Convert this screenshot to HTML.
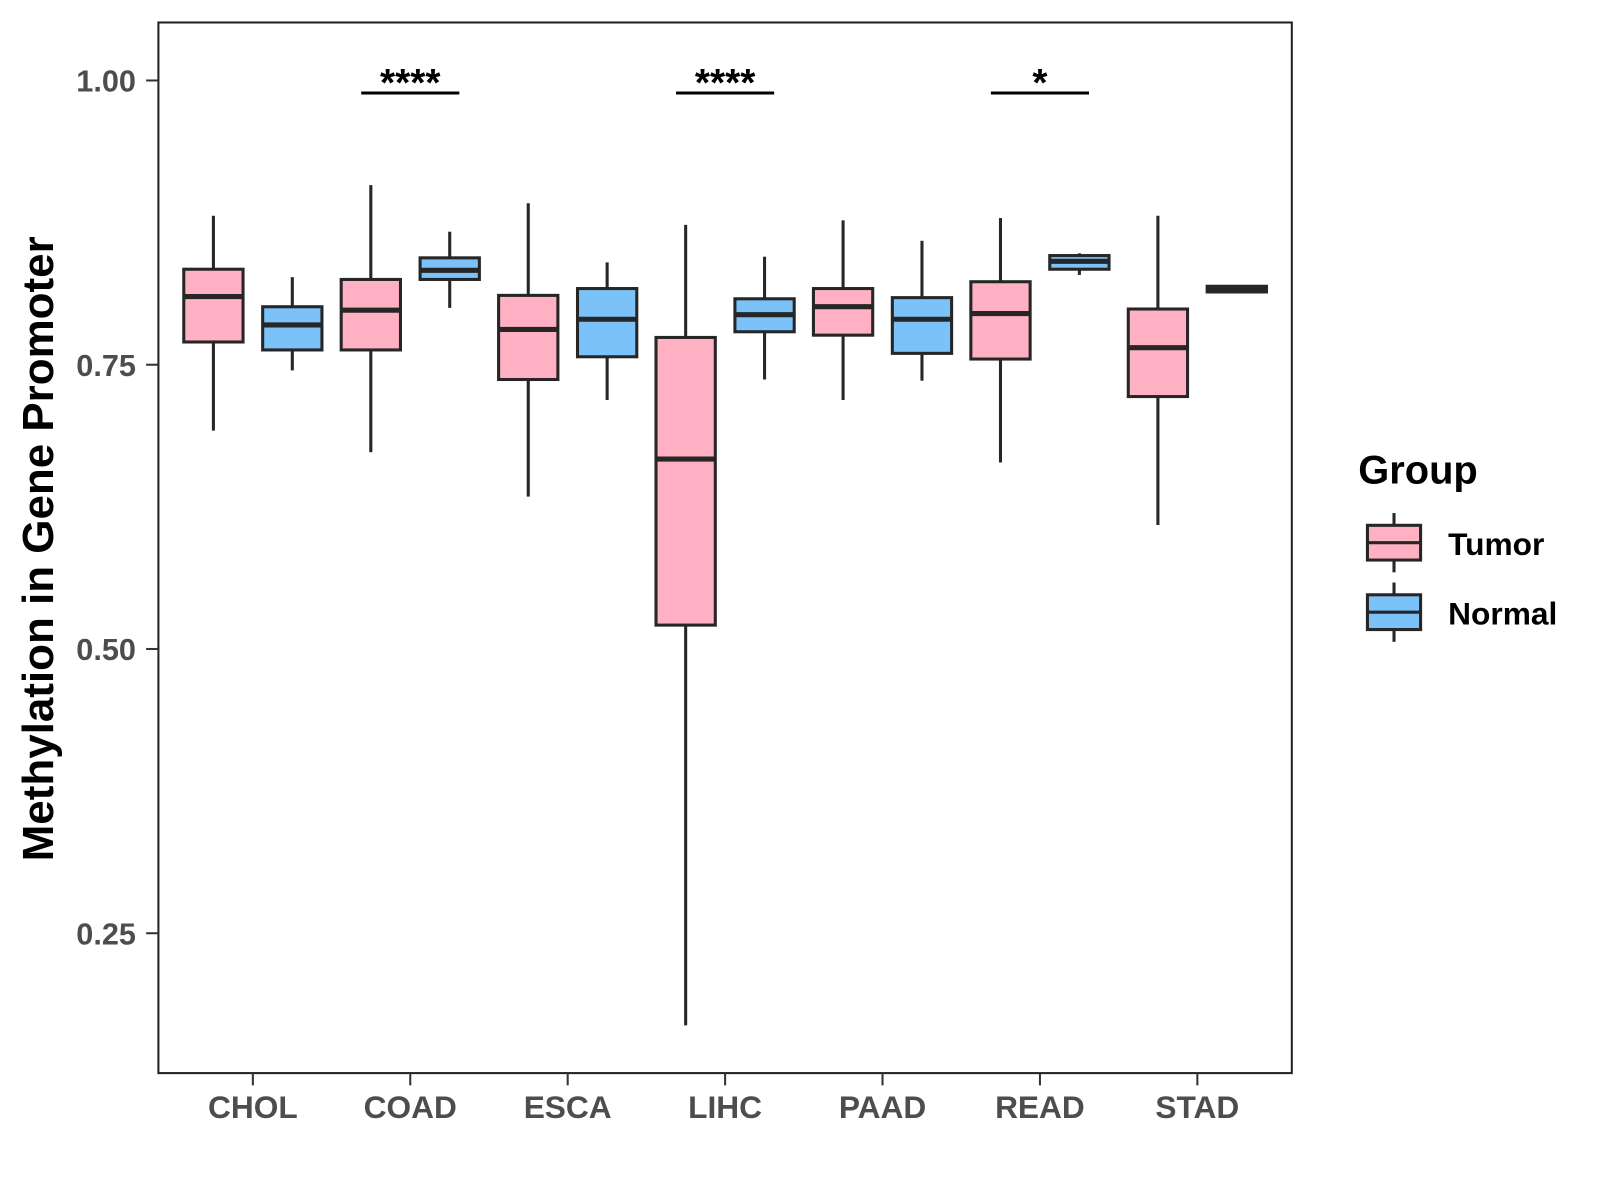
<!DOCTYPE html>
<html><head><meta charset="utf-8"><style>
html,body{margin:0;padding:0;background:#fff;}
svg{display:block;font-family:"Liberation Sans",Arial,sans-serif;}
</style></head><body>
<svg id="chart" width="1600" height="1200" viewBox="0 0 1600 1200">
<rect x="0" y="0" width="1600" height="1200" fill="#fff"/>
<g id="plot" transform="scale(1.022)"></g>
</svg>
<script>
const categories = ["CHOL","COAD","ESCA","LIHC","PAAD","READ","STAD"];
const groups = ["Tumor","Normal"];
// [low whisker, q1, median, q3, high whisker]
const tumorStats = [
  [0.692,0.770,0.810,0.834,0.881],
  [0.673,0.763,0.798,0.825,0.908],
  [0.634,0.737,0.781,0.811,0.892],
  [0.169,0.521,0.667,0.774,0.873],
  [0.719,0.776,0.801,0.817,0.877],
  [0.664,0.755,0.795,0.823,0.879],
  [0.609,0.722,0.765,0.799,0.881]
];
const normalStats = [
  [0.745,0.763,0.785,0.801,0.827],
  [0.800,0.825,0.833,0.844,0.867],
  [0.719,0.757,0.790,0.817,0.840],
  [0.737,0.779,0.794,0.808,0.845],
  [0.736,0.760,0.790,0.809,0.859],
  [0.829,0.834,0.841,0.846,0.848],
  [0.814,0.814,0.817,0.819,0.819]
];
const yTicks = [0.25,0.50,0.75,1.00];
const yTickLabels = ["0.25","0.50","0.75","1.00"];
const sigCategories = ["COAD","LIHC","READ"];
const sigLabels = ["****","****","*"];
const sigLevel = 0.989;

const NS="http://www.w3.org/2000/svg";
const P={l:155,r:1264,t:22,b:1050};
const yMin=0.127, yMax=1.051;
const y=v=>P.b-(v-yMin)/(yMax-yMin)*(P.b-P.t);
// discrete scale with 0.6 expansion on each side
const step=(P.r-P.l)/(categories.length-1+1.2);
const x=i=>P.l+step*(i+0.6);
const dodge=38.6, bw=58;
const fills=["#FFB1C3","#7BC2F9"];
const stroke="#262626";
const g=document.getElementById("plot");
function mk(tag,attrs,parent){const e=document.createElementNS(NS,tag);for(const k in attrs)e.setAttribute(k,attrs[k]);(parent||g).appendChild(e);return e;}

const panel=mk("rect",{x:P.l,y:P.t,width:P.r-P.l,height:P.b-P.t,fill:"none",stroke:"#222","stroke-width":2});



yTicks.forEach((t,i)=>{
  const tk=mk("line",{x1:P.l-12,x2:P.l,y1:y(t),y2:y(t),stroke:"#333","stroke-width":2});
  
  
  const lb=mk("text",{x:P.l-22,y:y(t)+11,"text-anchor":"end","font-size":30,"font-weight":"bold",fill:"#4d4d4d"});
  lb.textContent=yTickLabels[i];
  
  
});
categories.forEach((c,i)=>{
  const tk=mk("line",{x1:x(i),x2:x(i),y1:P.b,y2:P.b+12,stroke:"#333","stroke-width":2});
  
  
  const lb=mk("text",{x:x(i),y:P.b+44,"text-anchor":"middle","font-size":31,"font-weight":"bold",fill:"#4d4d4d"});
  lb.textContent=c;
  
  
});
function box(cx,s,fill,name){
  const bg=mk("g",{});
  
  
  mk("line",{x1:cx,x2:cx,y1:y(s[4]),y2:y(s[3]),stroke:stroke,"stroke-width":3},bg);
  mk("line",{x1:cx,x2:cx,y1:y(s[1]),y2:y(s[0]),stroke:stroke,"stroke-width":3},bg);
  mk("rect",{x:cx-bw/2,y:y(s[3]),width:bw,height:Math.max(1,y(s[1])-y(s[3])),fill:fill,stroke:stroke,"stroke-width":3},bg);
  mk("line",{x1:cx-bw/2,x2:cx+bw/2,y1:y(s[2]),y2:y(s[2]),stroke:stroke,"stroke-width":5},bg);
}
categories.forEach((c,i)=>{
  box(x(i)-dodge,tumorStats[i],fills[0],"box-tumor-"+c.toLowerCase());
  box(x(i)+dodge,normalStats[i],fills[1],"box-normal-"+c.toLowerCase());
});
sigCategories.forEach((c,k)=>{
  const i=categories.indexOf(c);
  const ln=mk("line",{x1:x(i)-48,x2:x(i)+48,y1:y(sigLevel),y2:y(sigLevel),stroke:"#000","stroke-width":3});
  
  
  const t=mk("text",{x:x(i),y:y(sigLevel)+3,"text-anchor":"middle","font-size":38,"font-weight":"bold",fill:"#000"});
  t.textContent=sigLabels[k];
  
  
});
const yt=mk("text",{x:0,y:0,transform:"translate(52,537) rotate(-90)","text-anchor":"middle","font-size":43,"font-weight":"bold",fill:"#000"});
yt.textContent="Methylation in Gene Promoter";



const lg=mk("g",{});


const lt=mk("text",{x:1329,y:473,"font-size":39,"font-weight":"bold",fill:"#000"},lg);
lt.textContent="Group";


groups.forEach((gname,k)=>{
  const top=514+k*68;
  const e=mk("g",{},lg);
  
  
  mk("line",{x1:1364,x2:1364,y1:top-12,y2:top+46,stroke:stroke,"stroke-width":3},e);
  mk("rect",{x:1338,y:top,width:52,height:34,fill:fills[k],stroke:stroke,"stroke-width":3},e);
  mk("line",{x1:1338,x2:1390,y1:top+17,y2:top+17,stroke:stroke,"stroke-width":3},e);
  const tx=mk("text",{x:1417,y:top+29,"font-size":31,"font-weight":"bold",fill:"#000"},e);
  tx.textContent=gname;
});
</script>
</body></html>
